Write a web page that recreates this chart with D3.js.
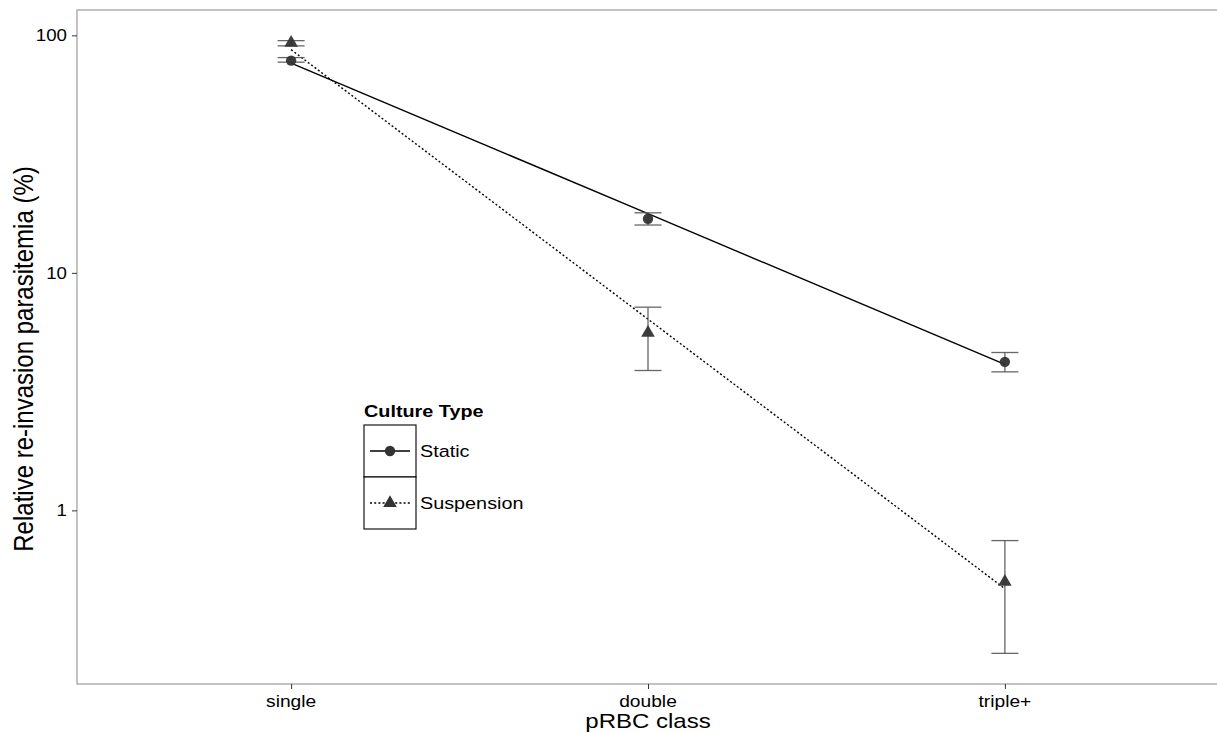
<!DOCTYPE html>
<html>
<head>
<meta charset="utf-8">
<script src="https://cdn.jsdelivr.net/npm/d3@7"></script>
<style>
  html, body { margin: 0; padding: 0; background: #fff; }
  svg { display: block; font-family: "Liberation Sans", Arial, Helvetica, sans-serif; }
</style>
</head>
<body>
<svg id="chart" width="1217" height="733"></svg>
<script>
// pRBC classes on the x axis
const classes = ["single", "double", "triple+"];
const cultureTypes = ["Static", "Suspension"];

// Mean relative re-invasion parasitemia (%) with error-bar bounds
const staticMean  = [78.3, 16.9, 4.22];
const staticLow   = [77.1, 15.9, 3.83];
const staticHigh  = [80.6, 17.9, 4.62];

const suspMean    = [93.0, 5.59, 0.50];
const suspLow     = [90.3, 3.88, 0.25];
const suspHigh    = [95.0, 7.17, 0.746];

const yTicks = [1, 10, 100];

const series = [
  { name: cultureTypes[0], mean: staticMean, low: staticLow, high: staticHigh, shape: "circle", dash: null },
  { name: cultureTypes[1], mean: suspMean, low: suspLow, high: suspHigh, shape: "triangle", dash: "2,2.2" }
];

const svg = d3.select("#chart");
const panel = { left: 77, right: 1219, top: 10, bottom: 684 };
const SX = 1.2; // horizontal text widening used throughout

// Discrete x positions with 0.6 expansion on each side
const x = d3.scalePoint().domain(classes)
  .range([panel.left, panel.right]).padding(0.6);

// Log y scale with 5% expansion of the data range
const allLogs = [...staticLow, ...staticHigh, ...suspLow, ...suspHigh].map(Math.log10);
const lmin = d3.min(allLogs), lmax = d3.max(allLogs);
const pad = (lmax - lmin) * 0.05;
const y = d3.scaleLog().domain([Math.pow(10, lmin - pad), Math.pow(10, lmax + pad)])
  .range([panel.bottom, panel.top]);

svg.append("defs").append("clipPath").attr("id", "panelClip")
  .append("rect").attr("x", panel.left).attr("y", panel.top)
  .attr("width", panel.right - panel.left).attr("height", panel.bottom - panel.top);

// Panel border
svg.append("rect")
  .attr("x", panel.left).attr("y", panel.top)
  .attr("width", panel.right - panel.left).attr("height", panel.bottom - panel.top)
  .attr("fill", "none").attr("stroke", "#9a9a9a").attr("stroke-width", 1.2);

// Helper: widened text anchored at (px, py)
function wideText(parent, px, py, str, size, anchor, weight) {
  const g = parent.append("g").attr("transform", `translate(${px},${py}) scale(${SX},1)`);
  const t = g.append("text").attr("x", 0).attr("y", 0)
    .attr("font-size", size).attr("text-anchor", anchor || "start").attr("fill", "#000").text(str);
  if (weight) t.attr("font-weight", weight);
  return t;
}

// Y axis ticks and labels
const yAxis = d3.axisLeft(y).tickValues(yTicks).tickFormat(d3.format("d")).tickSize(5).tickPadding(0);
const gy = svg.append("g").attr("transform", `translate(${panel.left},0)`).call(yAxis);
gy.select(".domain").remove();
gy.selectAll(".tick line").attr("stroke", "#333");
gy.selectAll(".tick text").remove();
yTicks.forEach(v => {
  const g = svg.append("g").attr("transform", `translate(67,${y(v)}) scale(1.1,1)`);
  g.append("text").attr("text-anchor", "end").attr("dy", "0.36em")
    .attr("font-size", 17).attr("fill", "#000").text(d3.format("d")(v));
});

// X axis ticks and labels
const xAxis = d3.axisBottom(x).tickSize(5).tickPadding(0);
const gx = svg.append("g").attr("transform", `translate(0,${panel.bottom})`).call(xAxis);
gx.select(".domain").remove();
gx.selectAll(".tick line").attr("stroke", "#333");
gx.selectAll(".tick text").remove();
classes.forEach(c => wideText(svg, x(c), 707, c, 16, "middle"));

// Axis titles
wideText(svg, (panel.left + panel.right) / 2, 727.5, "pRBC class", 20, "middle");
svg.append("g").attr("transform", `translate(33,359) rotate(-90) scale(1,1.15)`)
  .append("text").attr("text-anchor", "middle").attr("font-size", 24).attr("fill", "#000")
  .text("Relative re-invasion parasitemia (%)");

const plot = svg.append("g").attr("clip-path", "url(#panelClip)");

// Linear fit of log10(value) against class index
function fitLine(vals) {
  const xs = vals.map((_, i) => i);
  const ys = vals.map(Math.log10);
  const mx = d3.mean(xs), my = d3.mean(ys);
  const b = d3.sum(xs, (xi, i) => (xi - mx) * (ys[i] - my)) / d3.sum(xs, xi => (xi - mx) ** 2);
  const a = my - b * mx;
  return xs.map(xi => Math.pow(10, a + b * xi));
}

series.forEach(s => {
  const fitted = fitLine(s.mean);
  const path = plot.append("path").datum(fitted)
    .attr("fill", "none").attr("stroke", "#000").attr("stroke-width", 1.4)
    .attr("d", d3.line().x((d, i) => x(classes[i])).y(d => y(d)));
  if (s.dash) path.attr("stroke-dasharray", s.dash);
});

// Error bars
const capHalf = 13.5;
series.forEach(s => {
  const g = plot.append("g").attr("stroke", "#555").attr("stroke-width", 1.3).attr("stroke-opacity", 0.9);
  classes.forEach((c, i) => {
    const cx = x(c);
    g.append("line").attr("x1", cx).attr("x2", cx).attr("y1", y(s.low[i])).attr("y2", y(s.high[i]));
    g.append("line").attr("x1", cx - capHalf).attr("x2", cx + capHalf).attr("y1", y(s.low[i])).attr("y2", y(s.low[i]));
    g.append("line").attr("x1", cx - capHalf).attr("x2", cx + capHalf).attr("y1", y(s.high[i])).attr("y2", y(s.high[i]));
  });
});

// Points
const circleSym = d3.symbol().type(d3.symbolCircle).size(85);
const triSym = d3.symbol().type(d3.symbolTriangle).size(80);
series.forEach(s => {
  plot.selectAll(null).data(s.mean).enter().append("path")
    .attr("d", s.shape === "circle" ? circleSym : triSym)
    .attr("transform", (d, i) => `translate(${x(classes[i])},${y(d)})`)
    .attr("fill", "#333").attr("fill-opacity", 0.95);
});

// Legend
const lg = svg.append("g").attr("transform", "translate(364,0)");
wideText(lg, 0, 416.5, "Culture Type", 16.5, "start", "bold");
const keyTop = 425, keyH = 52, keyW = 52;
series.forEach((s, i) => {
  const ky = keyTop + i * keyH;
  lg.append("rect").attr("x", 0).attr("y", ky).attr("width", keyW).attr("height", keyH)
    .attr("fill", "#fff").attr("stroke", "#000").attr("stroke-width", 1.1);
  const l = lg.append("line").attr("x1", 6).attr("x2", keyW - 6)
    .attr("y1", ky + keyH / 2).attr("y2", ky + keyH / 2)
    .attr("stroke", "#000").attr("stroke-width", 1.3);
  if (s.dash) l.attr("stroke-dasharray", s.dash);
  lg.append("path").attr("d", s.shape === "circle" ? circleSym : triSym)
    .attr("transform", `translate(${keyW / 2},${ky + keyH / 2})`).attr("fill", "#333");
  wideText(lg, keyW + 4, ky + keyH / 2 + 6, s.name, 16.5, "start");
});
</script>
</body>
</html>
